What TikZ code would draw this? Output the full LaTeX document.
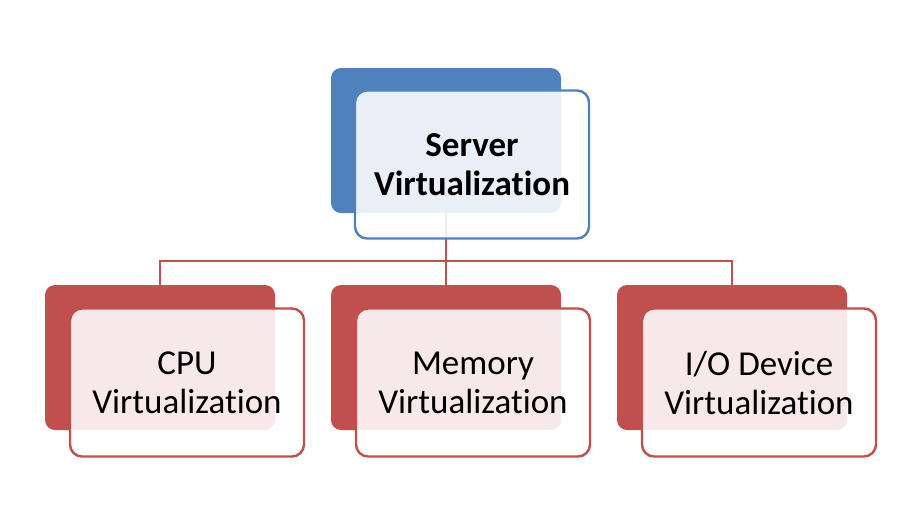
\documentclass[tikz,border=0pt]{standalone}
\usepackage{fontspec}
\setmainfont{Carlito}[Ligatures=NoCommon]
\usetikzlibrary{positioning}
\definecolor{srvblue}{HTML}{4F81BD}
\definecolor{subred}{HTML}{C0504D}
\tikzset{
  backcard/.style={
    rectangle, rounded corners=10pt, fill=#1, draw=none,
    minimum width=230pt, minimum height=145pt, inner sep=0pt
  },
  backcard/.default=subred,
  frontcard/.style={
    rectangle, rounded corners=12pt, draw=#1, line width=2.4pt,
    fill=white, fill opacity=0.88, text opacity=1,
    minimum width=234pt, minimum height=148pt, inner sep=0pt,
    font=\fontsize{35}{39}\selectfont, align=center
  },
  frontcard/.default=subred,
  linkline/.style={
    draw=subred, line width=2.8pt
  },
}
\begin{document}
\begin{tikzpicture}[x=1pt, y=-1pt]
  \useasboundingbox[fill=white] (0,0) rectangle (909,528);
  % back cards
  \node[backcard=srvblue] (srvback) at (446,140.5) {};
  \node[backcard] (cpuback) at (160,357.5) {};
  \node[backcard] (memback) at (446,357.5) {};
  \node[backcard] (ioback)  at (732,357.5) {};
  % connectors
  \coordinate (bus) at (446,261);
  \draw[linkline] (srvback.south) -- (memback.north);
  \draw[linkline] (cpuback.north) |- (ioback.north |- bus) -- (ioback.north);
  % front cards
  \node[frontcard=srvblue] (srv) at (472,164.5) {\bfseries Server\\\bfseries Virtualization};
  \node[frontcard] (cpu) at (187,382.5) {CPU\\Virtualization};
  \node[frontcard] (mem) at (473,382.5) {Memory\\Virtualization};
  \node[frontcard] (io)  at (759,382.5) {I/O Device\\Virtualization};
\end{tikzpicture}
\end{document}
